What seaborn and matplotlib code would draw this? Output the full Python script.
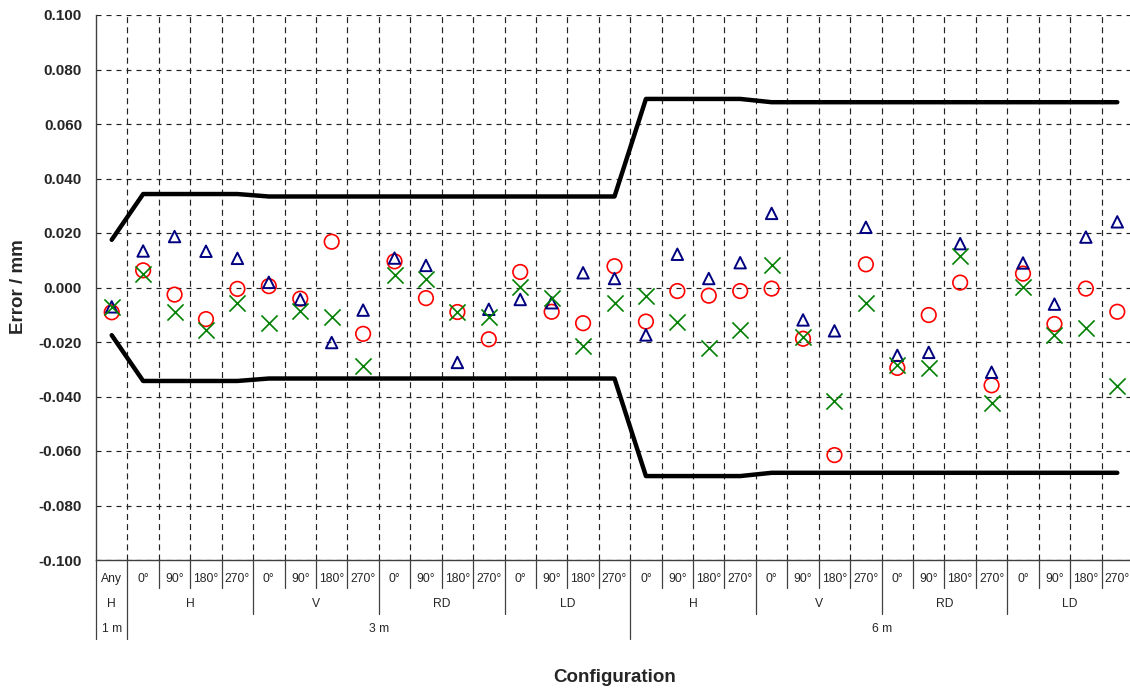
import numpy as np
import pandas as pd
import matplotlib
matplotlib.use("Agg")
import matplotlib.pyplot as plt
import seaborn as sns

# ---------------- data ----------------
angles = ["Any"] + ["0°", "90°", "180°", "270°"] * 8
orients = (["H"] + ["H"] * 4 + ["V"] * 4 + ["RD"] * 4 + ["LD"] * 4
           + ["H"] * 4 + ["V"] * 4 + ["RD"] * 4 + ["LD"] * 4)
distances = ["1 m"] + ["3 m"] * 16 + ["6 m"] * 16

circle_vals = [-0.0091, 0.0063, -0.0026, -0.0116, -0.0005, 0.0005, -0.0041, 0.0168,
               -0.0170, 0.0096, -0.0039, -0.0090, -0.0190, 0.0057, -0.0089, -0.0131,
               0.0078, -0.0125, -0.0013, -0.0030, -0.0013, -0.0004, -0.0188, -0.0615,
               0.0085, -0.0295, -0.0101, 0.0018, -0.0359, 0.0051, -0.0134, -0.0004,
               -0.0089]
triangle_vals = [-0.0071, 0.0134, 0.0187, 0.0133, 0.0107, 0.0019, -0.0044, -0.0202,
                 -0.0083, 0.0108, 0.0081, -0.0275, -0.0080, -0.0044, -0.0056, 0.0054,
                 0.0033, -0.0174, 0.0122, 0.0033, 0.0091, 0.0272, -0.0119, -0.0159,
                 0.0221, -0.0249, -0.0238, 0.0161, -0.0311, 0.0090, -0.0061, 0.0185,
                 0.0241]
cross_vals = [-0.0073, 0.0051, -0.0089, -0.0156, -0.0056, -0.0129, -0.0085, -0.0109,
              -0.0289, 0.0045, 0.0030, -0.0090, -0.0109, 0.0002, -0.0038, -0.0213,
              -0.0058, -0.0030, -0.0125, -0.0223, -0.0156, 0.0084, -0.0180, -0.0415,
              -0.0058, -0.0283, -0.0295, 0.0114, -0.0423, 0.0002, -0.0174, -0.0150,
              -0.0362]
upper_limit = [0.0175] + [0.0343] * 4 + [0.0334] * 12 + [0.0692] * 4 + [0.0680] * 12
lower_limit = [-0.0175] + [-0.0343] * 4 + [-0.0334] * 12 + [-0.0692] * 4 + [-0.0680] * 12

y_ticks = [-0.100, -0.080, -0.060, -0.040, -0.020, 0.000, 0.020, 0.040, 0.060, 0.080, 0.100]

df = pd.DataFrame({
    "pos": np.arange(len(angles)),
    "angle": angles, "orient": orients, "dist": distances,
    "circle": circle_vals, "triangle": triangle_vals, "cross": cross_vals,
    "upper": upper_limit, "lower": lower_limit,
})

# ---------------- style ----------------
sns.set_style("white")
plt.rcParams["font.family"] = ["Liberation Sans", "DejaVu Sans"]
plt.rcParams["lines.scale_dashes"] = False

W, H = 1130, 691
fig = plt.figure(figsize=(W / 100, H / 100), dpi=100)
ax_left, ax_right, ax_top, ax_bottom = 96, 1133, 15, 560
ax = fig.add_axes([ax_left / W, 1 - ax_bottom / H,
                   (ax_right - ax_left) / W, (ax_bottom - ax_top) / H])
ax_h = ax_bottom - ax_top

n = len(angles)
ax.set_xlim(-0.5, n - 0.5)
ax.set_ylim(-0.1, 0.1)

# grid
ax.set_yticks(y_ticks)
ax.set_yticklabels([f"{v:.3f}" for v in y_ticks], fontsize=11, fontweight="bold")
ax.set_xticks([])
ax.set_xticks(np.arange(0.5, n - 0.5, 1), minor=True)
ax.tick_params(axis="x", which="both", length=0, labelbottom=False)
ax.tick_params(axis="y", length=4, width=0.9, color="#404040", pad=6, direction="out")
ax.grid(True, axis="y", which="major", color="#222222", lw=0.85, ls=(0, (3.6, 3.6)))
ax.grid(True, axis="x", which="minor", color="#222222", lw=0.85, ls=(0, (4.3, 3.0)))
ax.set_axisbelow(True)

for s in ["top", "right"]:
    ax.spines[s].set_visible(False)
for s in ["left", "bottom"]:
    ax.spines[s].set_color("#404040")
    ax.spines[s].set_linewidth(1.0)

# limit lines
sns.lineplot(data=df, x="pos", y="upper", color="black", lw=3.2, ax=ax, sort=False,
             zorder=3)
sns.lineplot(data=df, x="pos", y="lower", color="black", lw=3.2, ax=ax, sort=False,
             zorder=3)

# markers
sns.scatterplot(data=df, x="pos", y="circle", marker="o", s=110, color="#FF0000",
                facecolor="none", edgecolor="#FF0000", linewidth=1.2, ax=ax, zorder=4)
sns.scatterplot(data=df, x="pos", y="triangle", marker="^", s=68, color="#000080",
                facecolor="none", edgecolor="#000080", linewidth=1.4, ax=ax, zorder=4)
sns.scatterplot(data=df, x="pos", y="cross", marker="x", s=135, color="#008000",
                linewidth=1.2, ax=ax, zorder=5)

ax.set_xlabel("")
ax.set_ylabel("")

# category axis text
tr = ax.get_xaxis_transform()
row_y = [-(579 - ax_bottom) / ax_h, -(604 - ax_bottom) / ax_h, -(629 - ax_bottom) / ax_h]
sep_y = [-(588 - ax_bottom) / ax_h, -(614 - ax_bottom) / ax_h, -(639 - ax_bottom) / ax_h]

for i, a in enumerate(angles):
    ax.text(i, row_y[0], a, transform=tr, ha="center", va="center", fontsize=8.7,
            clip_on=False)

keys = list(zip(distances, orients))
starts = [0] + [i for i in range(1, n) if keys[i] != keys[i - 1]]
ends = starts[1:] + [n]
for s, e in zip(starts, ends):
    ax.text((s + e - 1) / 2, row_y[1], orients[s], transform=tr, ha="center",
            va="center", fontsize=8.7, clip_on=False)

dstarts = [0] + [i for i in range(1, n) if distances[i] != distances[i - 1]]
dends = dstarts[1:] + [n]
for s, e in zip(dstarts, dends):
    ax.text((s + e - 1) / 2, row_y[2], distances[s], transform=tr, ha="center",
            va="center", fontsize=8.7, clip_on=False)

for b in range(0, n + 1):
    if b in dstarts or b == n:
        depth = sep_y[2]
    elif b in starts:
        depth = sep_y[1]
    else:
        depth = sep_y[0]
    ax.plot([b - 0.5, b - 0.5], [0, depth], transform=tr, color="#404040", lw=0.9,
            clip_on=False)

# axis titles
fig.text(19 / W, 1 - 287 / H, "Error / mm", rotation=90, ha="center", va="center",
         fontsize=13.5, fontweight="bold")
fig.text((ax_left + ax_right) / 2 / W, 1 - 678 / H, "Configuration", ha="center",
         va="center", fontsize=13.5, fontweight="bold")

fig.savefig("out.png", dpi=100)
